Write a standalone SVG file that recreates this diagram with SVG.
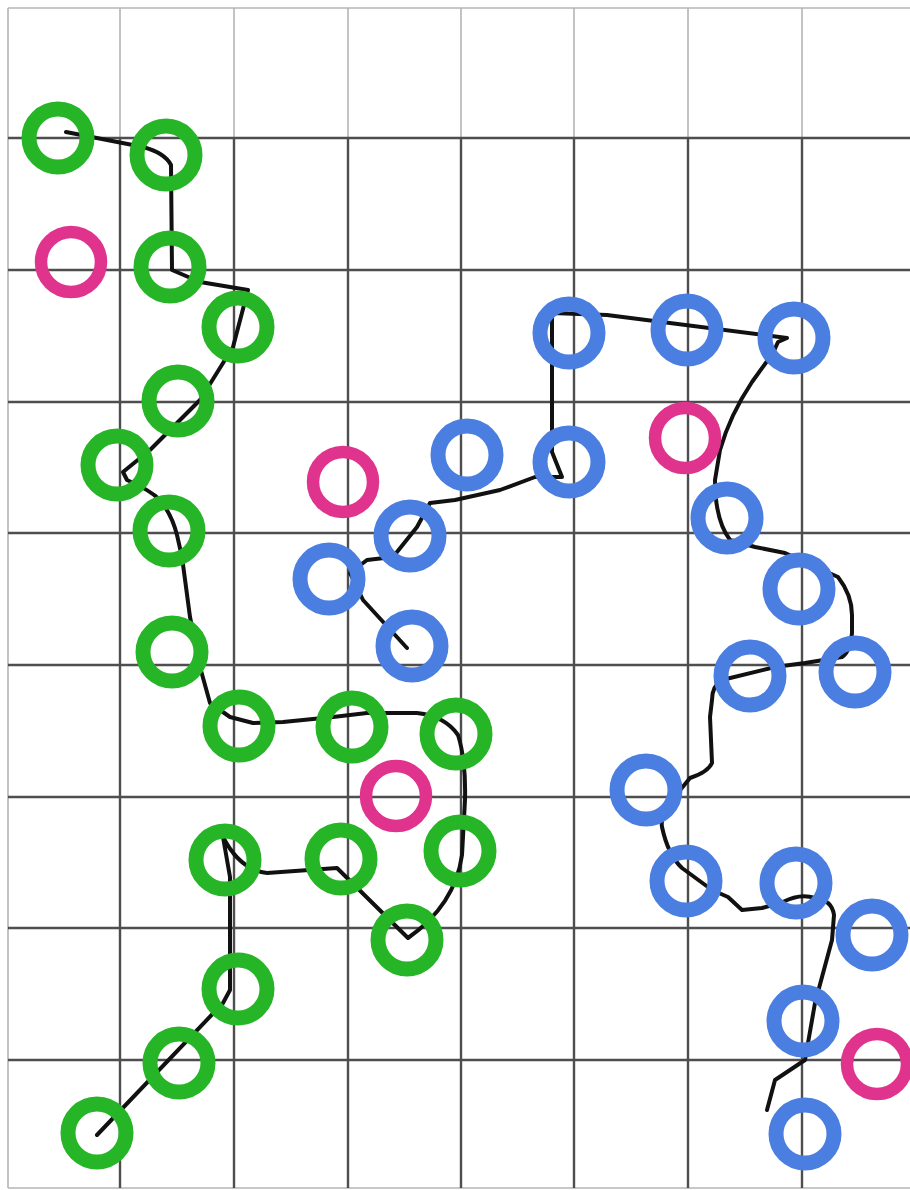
<svg xmlns="http://www.w3.org/2000/svg" width="910" height="1190" viewBox="0 0 910 1190">
<style>
.bg{fill:#ffffff}
.gl{stroke:#4e4e4e;stroke-width:2.4;fill:none}
.gt{stroke:#b5b5b5;stroke-width:1.6;fill:none}
.g{fill:none;stroke:#26b526;stroke-width:15}
.p{fill:none;stroke:#e0338e;stroke-width:12.5}
.b{fill:none;stroke:#4a7ee0;stroke-width:15}
.path{fill:none;stroke:#111;stroke-width:4;stroke-linejoin:round;stroke-linecap:round}
</style>
<rect class="bg" x="0" y="0" width="910" height="1190"/>
<g id="grid">
<path class="gt" d="M8 8H910M8 8V1188M8 1188H910"/>
<path class="gt" d="M120 8V138M234 8V138M348 8V138M461 8V138M574 8V138M688 8V138M802 8V138"/>
<path class="gl" d="M8 138H910M8 270H910M8 402H910M8 533H910M8 665H910M8 797H910M8 928H910M8 1060H910"/>
<path class="gl" d="M120 138V1188M234 138V1188M348 138V1188M461 138V1188M574 138V1188M688 138V1188M802 138V1188"/>
</g>
<g id="connectors">
<path class="path" d="M66 132 L143 147 Q165 153 171 165 L172 270 L200 282 L248 290 L233 347 L200 400 L150 450 L123 472 L127 480 Q150 490 160 500 Q172 515 177 535 L182 557 L190 617 L200 667 L210 703 L230 717 L253 723 L283 722 L333 717 L367 713 L417 713 Q445 716 458 735 Q466 760 465 800 L462 855 Q455 905 408 938 L337 868 L267 873 Q240 870 223 837 L230 877 L230 990 L223 1003 L97 1135"/>
<path class="path" d="M407 648 L363 600 L350 573 L367 560 L393 557 L417 527 L430 503 L455 500 L500 490 L535 477 L562 477 L552 452 L552 313 L607 315 L787 338 L778 342 L773 353 L752 382 Q730 415 720 450 L715 480 Q715 520 730 540 L755 547 L785 553 L838 577 Q852 595 852 615 L852 633 Q850 652 842 657 L805 663 L775 667 L722 680 Q712 686 712 700 L710 717 L712 763 Q708 772 690 778 L672 800 Q660 815 662 827 Q668 855 682 868 L712 890 L728 897 L742 910 L762 908 L783 902 Q800 893 815 898 Q832 900 834 915 L832 940 L822 977 L815 1003 L808 1043 L805 1060 L775 1080 L767 1110"/>
</g>
<g id="green">
<circle id="g1" class="g" cx="58" cy="138" r="29"/>
<circle id="g2" class="g" cx="166" cy="155" r="29"/>
<circle id="g3" class="g" cx="170" cy="267" r="29"/>
<circle id="g4" class="g" cx="238" cy="327" r="29"/>
<circle id="g5" class="g" cx="178" cy="401" r="29"/>
<circle id="g6" class="g" cx="117" cy="465" r="29"/>
<circle id="g7" class="g" cx="169" cy="531" r="29"/>
<circle id="g8" class="g" cx="172" cy="652" r="29"/>
<circle id="g9" class="g" cx="239" cy="726" r="29"/>
<circle id="g10" class="g" cx="352" cy="727" r="29"/>
<circle id="g11" class="g" cx="456" cy="734" r="29"/>
<circle id="g12" class="g" cx="225" cy="860" r="29"/>
<circle id="g13" class="g" cx="341" cy="859" r="29"/>
<circle id="g14" class="g" cx="460" cy="851" r="29"/>
<circle id="g15" class="g" cx="407" cy="940" r="29"/>
<circle id="g16" class="g" cx="238" cy="989" r="29"/>
<circle id="g17" class="g" cx="179" cy="1063" r="29"/>
<circle id="g18" class="g" cx="97" cy="1133" r="29"/>
</g>
<g id="pink">
<circle id="p1" class="p" cx="71" cy="262" r="30"/>
<circle id="p2" class="p" cx="343" cy="482" r="30"/>
<circle id="p3" class="p" cx="685" cy="438" r="30"/>
<circle id="p4" class="p" cx="396" cy="796" r="30"/>
<circle id="p5" class="p" cx="877" cy="1064" r="30"/>
</g>
<g id="blue">
<circle id="b1" class="b" cx="569" cy="333" r="29"/>
<circle id="b2" class="b" cx="687" cy="330" r="29"/>
<circle id="b3" class="b" cx="794" cy="338" r="29"/>
<circle id="b4" class="b" cx="467" cy="455" r="29"/>
<circle id="b5" class="b" cx="569" cy="462" r="29"/>
<circle id="b6" class="b" cx="410" cy="536" r="29"/>
<circle id="b7" class="b" cx="329" cy="579" r="29"/>
<circle id="b8" class="b" cx="412" cy="646" r="29"/>
<circle id="b9" class="b" cx="727" cy="518" r="29"/>
<circle id="b10" class="b" cx="799" cy="589" r="29"/>
<circle id="b11" class="b" cx="750" cy="676" r="29"/>
<circle id="b12" class="b" cx="855" cy="672" r="29"/>
<circle id="b13" class="b" cx="646" cy="790" r="29"/>
<circle id="b14" class="b" cx="686" cy="881" r="29"/>
<circle id="b15" class="b" cx="796" cy="883" r="29"/>
<circle id="b16" class="b" cx="872" cy="935" r="29"/>
<circle id="b17" class="b" cx="803" cy="1021" r="29"/>
<circle id="b18" class="b" cx="805" cy="1134" r="29"/>
</g>
</svg>
